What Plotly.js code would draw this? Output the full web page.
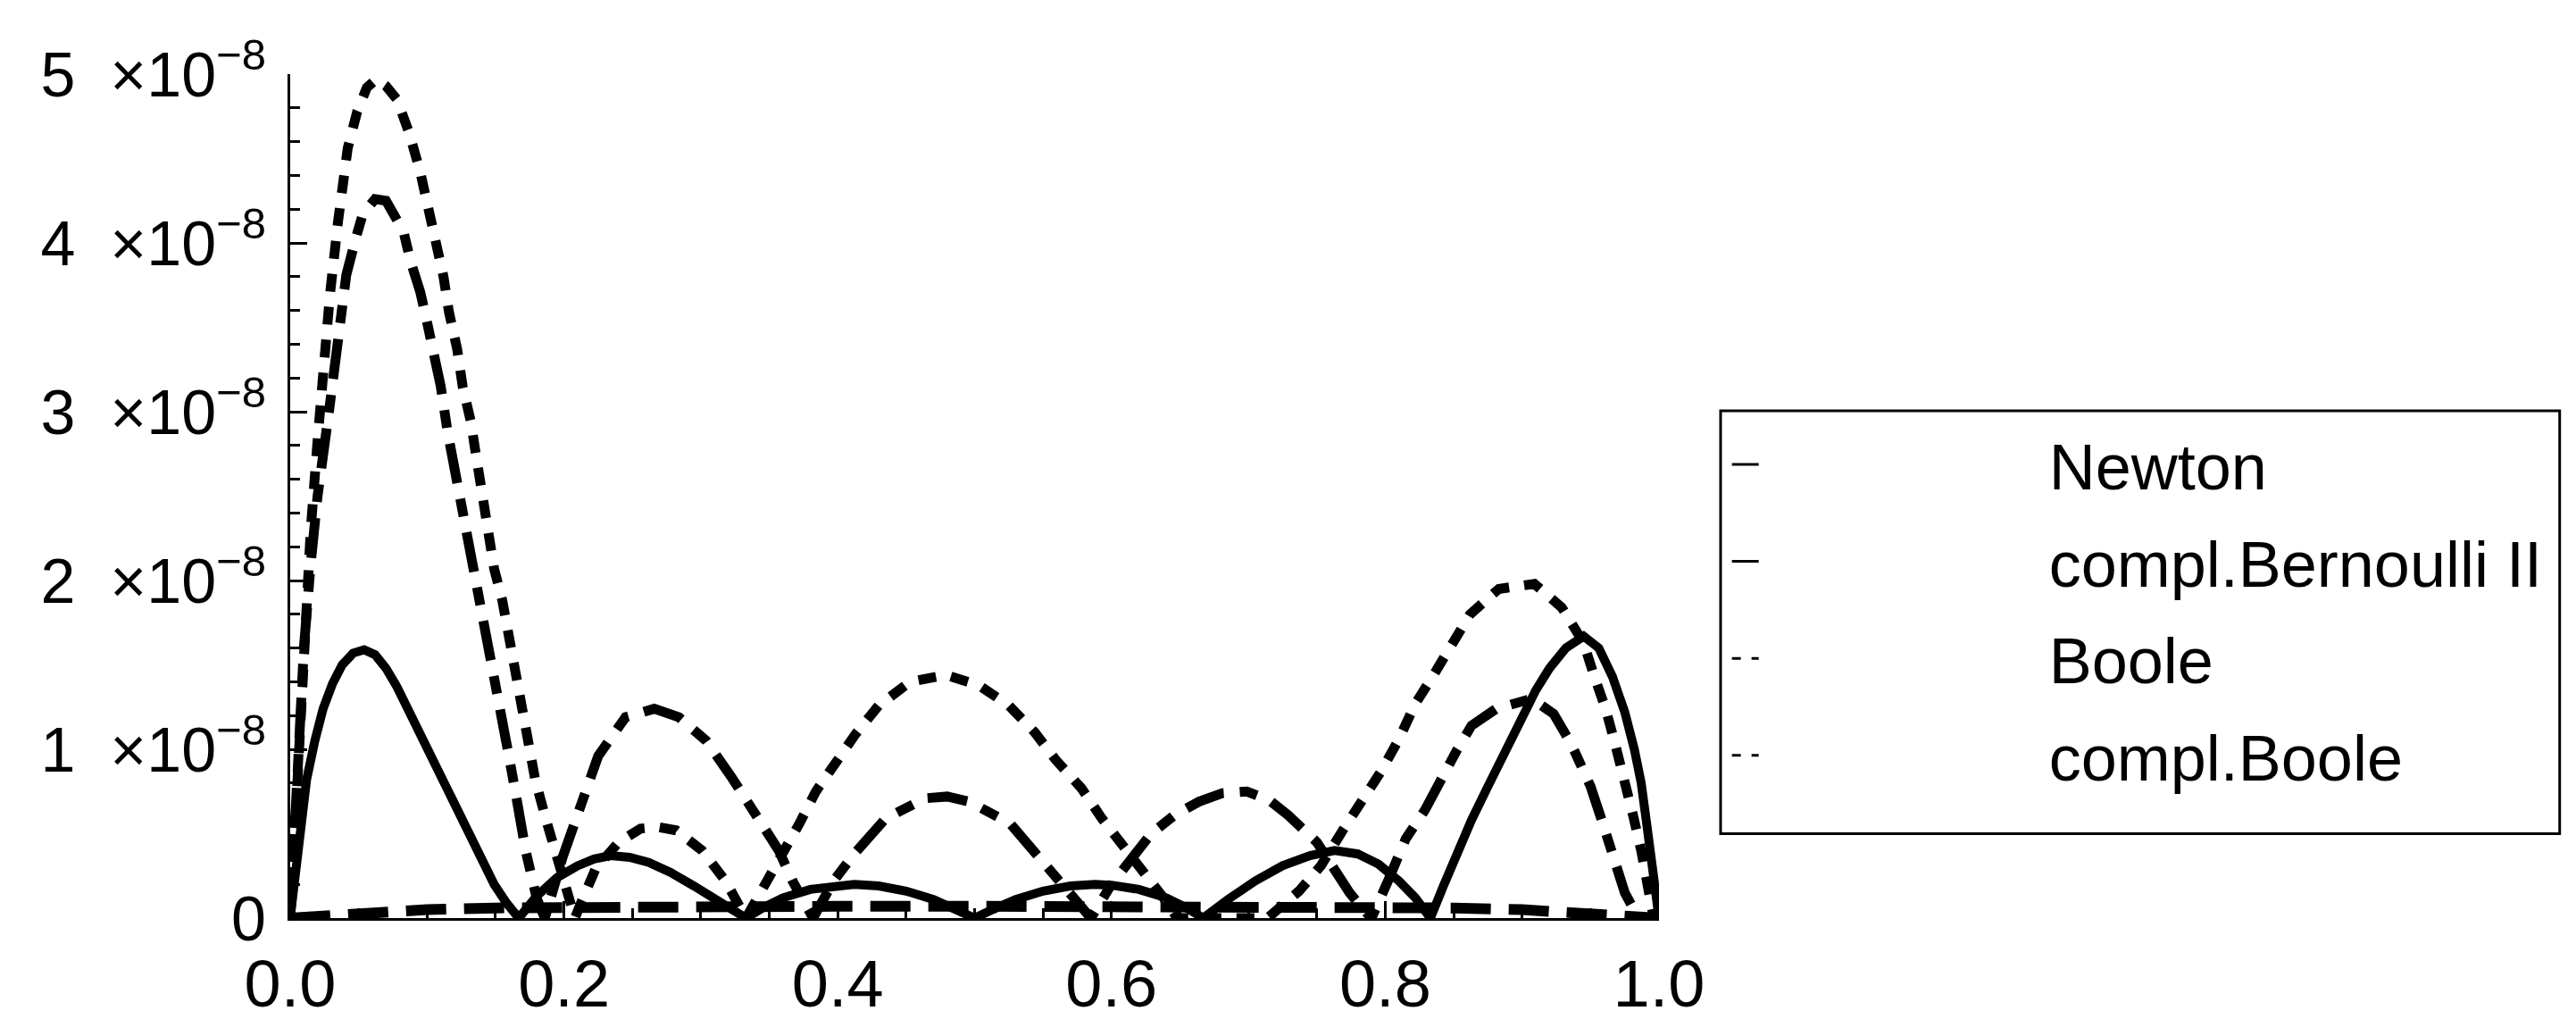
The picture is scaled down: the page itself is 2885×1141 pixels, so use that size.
<!DOCTYPE html>
<html>
<head>
<meta charset="utf-8">
<script src="https://cdn.plot.ly/plotly-3.0.1.min.js"></script>
<style>
  html, body { margin: 0; padding: 0; background: #fff; }
  #plot { width: 2885px; height: 1141px; }
</style>
</head>
<body>
<div id="plot"></div>
<script>
// error values are in units of 1e-8

var seriesNames = ['Newton', 'compl.Bernoulli II', 'Boole', 'compl.Boole'];

var newtonX = [0, 0.004, 0.008, 0.012, 0.018, 0.024, 0.031, 0.038, 0.046, 0.054, 0.062, 0.07, 0.078, 0.086, 0.096, 0.106, 0.116, 0.127, 0.138, 0.149, 0.158, 0.167,
    0.18, 0.195, 0.21, 0.222, 0.234, 0.248, 0.262, 0.278, 0.295, 0.313, 0.333,
    0.345, 0.36, 0.38, 0.4, 0.412, 0.43, 0.45, 0.47, 0.487, 0.5,
    0.513, 0.53, 0.55, 0.57, 0.588, 0.6, 0.62, 0.64, 0.655, 0.667,
    0.685, 0.705, 0.725, 0.745, 0.763, 0.78, 0.795, 0.81, 0.822, 0.833,
    0.842, 0.852, 0.863, 0.875, 0.887, 0.898, 0.91, 0.92, 0.932, 0.945, 0.956, 0.966, 0.975, 0.982, 0.987, 0.991, 0.995, 1.0];
var newtonY = [0, 0.3, 0.58, 0.82, 1.05, 1.24, 1.39, 1.5, 1.57, 1.59, 1.56, 1.48, 1.37, 1.24, 1.07, 0.9, 0.73, 0.56, 0.38, 0.2, 0.09, 0,
    0.13, 0.24, 0.31, 0.35, 0.37, 0.36, 0.33, 0.27, 0.19, 0.1, 0,
    0.06, 0.12, 0.17, 0.195, 0.2, 0.19, 0.16, 0.11, 0.05, 0,
    0.05, 0.11, 0.16, 0.19, 0.2, 0.195, 0.17, 0.12, 0.06, 0,
    0.11, 0.22, 0.31, 0.37, 0.4, 0.38, 0.32, 0.22, 0.12, 0,
    0.18, 0.38, 0.58, 0.78, 0.98, 1.17, 1.35, 1.48, 1.6, 1.67, 1.6, 1.43, 1.22, 1.0, 0.8, 0.56, 0.3, 0];

var bernoulliX = [0, 0.05, 0.1, 0.15, 0.2, 0.3, 0.4, 0.5, 0.6, 0.7, 0.8, 0.85, 0.9, 0.95, 1.0];
var bernoulliY = [0, 0.03, 0.05, 0.06, 0.065, 0.068, 0.07, 0.07, 0.07, 0.068, 0.065, 0.06, 0.05, 0.03, 0];

var booleX = [0, 0.005, 0.01, 0.015, 0.02, 0.024, 0.029, 0.035, 0.042, 0.049, 0.056, 0.063, 0.07, 0.078, 0.087, 0.095, 0.101, 0.106, 0.112, 0.116, 0.122, 0.126, 0.132, 0.136, 0.14, 0.149, 0.155, 0.16, 0.164, 0.17, 0.175, 0.179, 0.187, 0.195, 0.203, 0.208,
    0.213, 0.223, 0.24, 0.256, 0.268, 0.282, 0.301, 0.318, 0.333,
    0.344, 0.357, 0.372, 0.384, 0.399, 0.413, 0.43, 0.453, 0.479, 0.503, 0.525, 0.544, 0.559, 0.578, 0.593, 0.61, 0.626, 0.638, 0.648,
    0.714, 0.737, 0.753, 0.769, 0.785, 0.797, 0.81, 0.822, 0.836, 0.849, 0.862, 0.883, 0.909, 0.929, 0.945, 0.952, 0.961, 0.968, 0.975, 0.981, 0.987, 0.991, 0.995, 1.0];
var booleY = [0, 0.85, 1.6, 2.3, 2.83, 3.25, 3.69, 4.13, 4.56, 4.78, 4.92, 4.97, 4.93, 4.85, 4.65, 4.42, 4.22, 4.01, 3.8, 3.59, 3.37, 3.15, 2.94, 2.73, 2.52, 2.07, 1.88, 1.67, 1.46, 1.24, 1.05, 0.82, 0.58, 0.36, 0.14, 0,
    0.1, 0.29, 0.45, 0.53, 0.54, 0.52, 0.4, 0.22, 0,
    0.15, 0.35, 0.56, 0.75, 0.93, 1.09, 1.26, 1.4, 1.44, 1.38, 1.26, 1.1, 0.94, 0.77, 0.59, 0.42, 0.25, 0.12, 0,
    0, 0.16, 0.31, 0.52, 0.71, 0.87, 1.06, 1.27, 1.45, 1.63, 1.8, 1.95, 1.98, 1.84, 1.63, 1.45, 1.24, 1.03, 0.82, 0.61, 0.4, 0.2, 0.05, 0];

var complBooleX = [0, 0.005, 0.01, 0.015, 0.02, 0.028, 0.035, 0.041, 0.048, 0.053, 0.062, 0.07, 0.077, 0.083, 0.088, 0.095, 0.1, 0.106, 0.11, 0.115, 0.123, 0.13, 0.136, 0.142, 0.148, 0.154, 0.16, 0.166, 0.172, 0.18, 0.186,
    0.199, 0.212, 0.225, 0.245, 0.266, 0.284, 0.304, 0.322, 0.342, 0.357, 0.367, 0.376, 0.382,
    0.397, 0.412, 0.435, 0.464, 0.48, 0.496, 0.526, 0.549, 0.564, 0.576, 0.585,
    0.6, 0.615, 0.629, 0.646, 0.664, 0.681, 0.699, 0.715, 0.729, 0.75, 0.762, 0.774, 0.783, 0.79,
    0.802, 0.815, 0.829, 0.84, 0.852, 0.863, 0.881, 0.907, 0.923, 0.936, 0.95, 0.959, 0.968, 0.975, 0.985, 1.0];
var complBooleY = [0, 0.9, 1.6, 2.1, 2.5, 2.98, 3.43, 3.81, 4.03, 4.17, 4.26, 4.25, 4.15, 4.06, 3.89, 3.71, 3.53, 3.3, 3.15, 2.88, 2.55, 2.25, 2.0, 1.75, 1.45, 1.2, 0.95, 0.68, 0.4, 0.12, 0,
    0.36, 0.68, 0.96, 1.19, 1.24, 1.19, 1.05, 0.84, 0.59, 0.4, 0.22, 0.08, 0,
    0.22, 0.38, 0.59, 0.71, 0.72, 0.69, 0.56, 0.34, 0.2, 0.08, 0,
    0.2, 0.36, 0.5, 0.61, 0.69, 0.74, 0.75, 0.7, 0.61, 0.45, 0.29, 0.15, 0.06, 0,
    0.22, 0.47, 0.64, 0.82, 0.99, 1.14, 1.24, 1.3, 1.21, 1.03, 0.78, 0.56, 0.31, 0.15, 0, 0];

var yTickVals = [0, 1, 2, 3, 4, 5];
var yTickText = ['0', '1\u00a0 \u00d710<sup>\u22128</sup>', '2\u00a0 \u00d710<sup>\u22128</sup>', '3\u00a0 \u00d710<sup>\u22128</sup>',
    '4\u00a0 \u00d710<sup>\u22128</sup>', '5\u00a0 \u00d710<sup>\u22128</sup>'];
var xTickVals = [0, 0.2, 0.4, 0.6, 0.8, 1.0];
var xTickText = ['0.0', '0.2', '0.4', '0.6', '0.8', '1.0'];

var FONT = '"Liberation Sans Narrow", "Arial Narrow", "Liberation Sans", Arial, sans-serif';
var pad = '\u00a0'.repeat(16);

function curve(x, y, dash, w) {
    return {
        x: x, y: y, type: 'scatter', mode: 'lines',
        line: { color: 'black', width: w, dash: dash },
        showlegend: false, hoverinfo: 'skip'
    };
}

function legendEntry(name, dash) {
    return {
        x: [null], y: [null], type: 'scatter', mode: 'lines',
        name: pad + name, legendgroup: name,
        line: { color: 'black', width: 3, dash: dash }
    };
}

var traces = [
    curve(bernoulliX, bernoulliY, '45px,20px', 12),
    curve(complBooleX, complBooleY, '45px,18px,20px,18px', 11),
    curve(booleX, booleY, '20px,17px', 11),
    curve(newtonX, newtonY, 'solid', 10),
    legendEntry(seriesNames[0], 'solid'),
    legendEntry(seriesNames[1], 'solid'),
    legendEntry(seriesNames[2], '10px,12px'),
    legendEntry(seriesNames[3], '10px,12px')
];

var layout = {
    width: 2885,
    height: 1141,
    margin: { l: 325, r: 1027, t: 83, b: 113 },
    paper_bgcolor: 'white',
    plot_bgcolor: 'white',
    font: { family: FONT, size: 74, color: 'black' },
    showlegend: true,
    legend: {
        x: 1.05, y: 0.594, xanchor: 'left', yanchor: 'top',
        bgcolor: 'rgba(0,0,0,0)', borderwidth: 0,
        font: { family: FONT, size: 72, color: 'black' },
        traceorder: 'grouped', tracegroupgap: 12,
        itemwidth: 30
    },
    // legend frame
    shapes: [{
        type: 'rect', xref: 'paper', yref: 'paper',
        x0: 1.045, x1: 1.658, y0: 0.1, y1: 0.601,
        line: { color: 'black', width: 3 }, fillcolor: 'rgba(0,0,0,0)'
    }],
    xaxis: {
        range: [0, 1],
        tickmode: 'array', tickvals: xTickVals, ticktext: xTickText,
        ticks: 'inside', ticklen: 19, tickwidth: 3, tickcolor: 'black',
        minor: { tickmode: 'linear', tick0: 0, dtick: 0.05, ticks: 'inside', ticklen: 11, tickwidth: 3, tickcolor: 'black', showgrid: false },
        showline: true, linecolor: 'black', linewidth: 3,
        showgrid: false, zeroline: false,
        tickfont: { family: FONT, size: 74, color: 'black' },
        ticklabelstandoff: 7
    },
    yaxis: {
        range: [0, 5],
        tickmode: 'array', tickvals: yTickVals, ticktext: yTickText,
        ticks: 'inside', ticklen: 19, tickwidth: 3, tickcolor: 'black',
        minor: { tickmode: 'linear', tick0: 0, dtick: 0.2, ticks: 'inside', ticklen: 11, tickwidth: 3, tickcolor: 'black', showgrid: false },
        showline: true, linecolor: 'black', linewidth: 3,
        showgrid: false, zeroline: false,
        tickfont: { family: FONT, size: 70, color: 'black' },
        ticklabelstandoff: 10
    }
};

Plotly.newPlot('plot', traces, layout, { displayModeBar: false, staticPlot: true });
</script>
</body>
</html>
